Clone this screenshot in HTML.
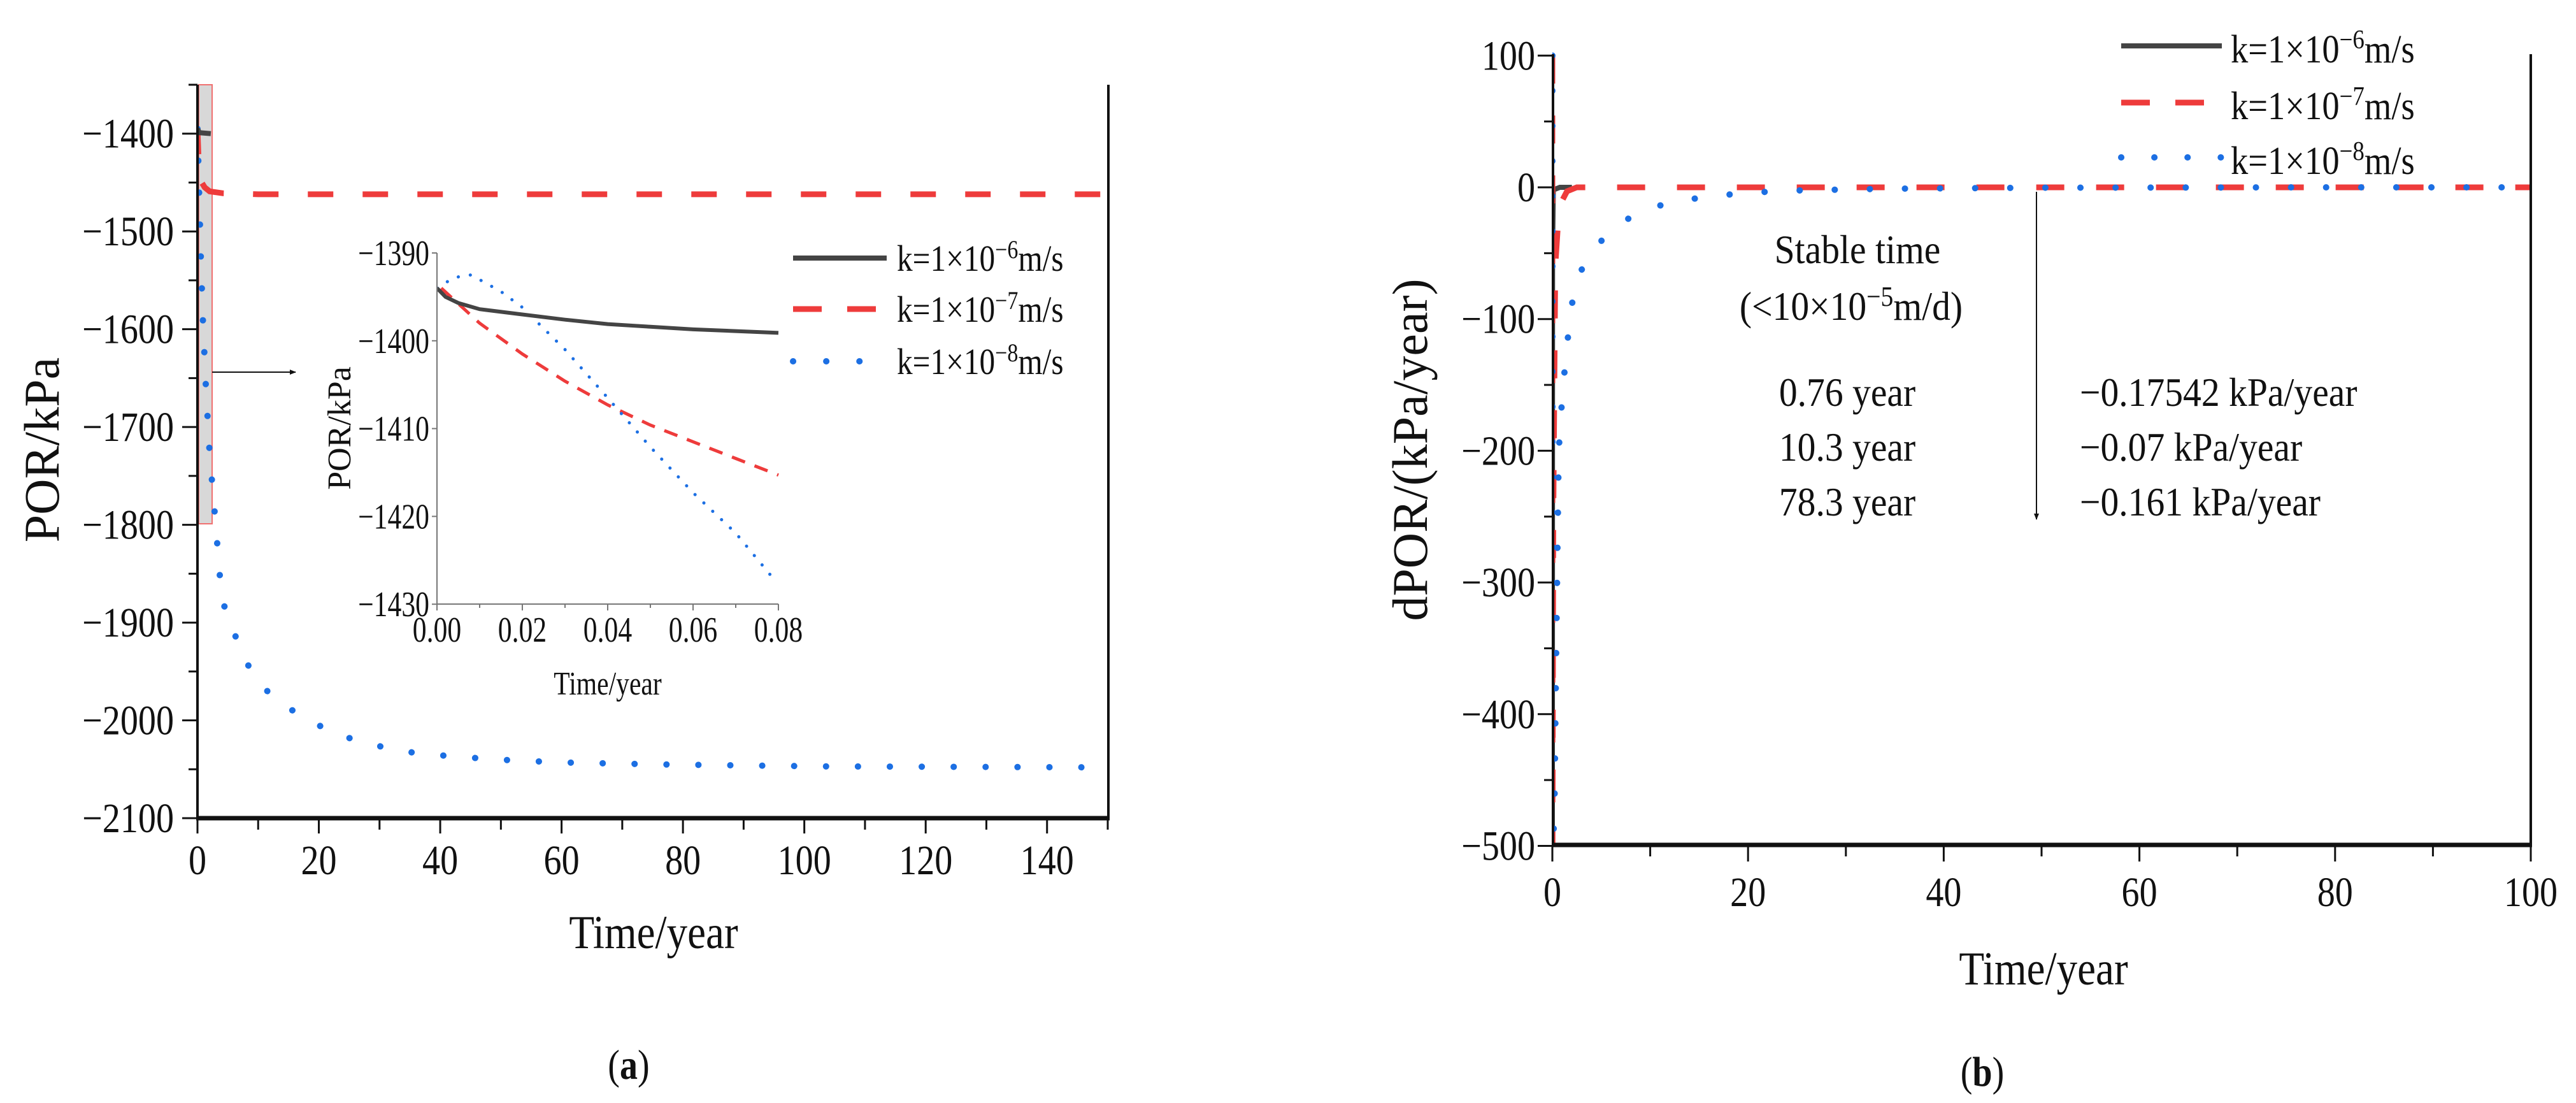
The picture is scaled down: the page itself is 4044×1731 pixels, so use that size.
<!DOCTYPE html>
<html><head><meta charset="utf-8">
<style>
html,body{margin:0;padding:0;background:#fff;}
svg{display:block;}
text{font-family:"Liberation Serif",serif;fill:#111;}
</style></head>
<body>
<svg id="fig" width="4044" height="1731" viewBox="0 0 4044 1731" xmlns="http://www.w3.org/2000/svg">
<defs>
<clipPath id="clipA"><rect x="310" y="100" width="1430" height="1186"/></clipPath>
<clipPath id="clipB"><rect x="2437" y="80" width="1537" height="1248"/></clipPath>
<clipPath id="clipI"><rect x="686" y="380" width="540" height="570"/></clipPath>
<marker id="arrowHead" markerWidth="10" markerHeight="8" refX="9" refY="4" orient="auto" markerUnits="userSpaceOnUse"><path d="M0,0 L10,4 L0,8 z" fill="#111"/></marker>
</defs>
<g id="chartA"></g>
<g id="inset"></g>
<g id="chartB"></g>
</svg>
<script>
// ---- Chart (a) data ----
const aBlackT = [0, 0.3, 2.2];
const aBlackV = [-1395, -1399, -1400];
const aRedT = [0, 0.15, 0.4, 0.7, 1.2, 2.0, 4.2, 10, 150];
const aRedV = [-1395, -1420, -1440, -1450, -1455, -1459, -1461, -1462, -1462];
const aBlueT = [0, 0.26, 0.55, 0.9, 1.4, 2.0, 2.9, 4.0, 6, 8, 10, 13, 17.9, 22.7, 27.8, 33, 38.4, 49, 59.8, 76, 102.8, 147];
const aBlueV = [-1395, -1457, -1525, -1592, -1660, -1727, -1792, -1876, -1910, -1940, -1960, -1980, -1998, -2014, -2023, -2031, -2035, -2040, -2043, -2045, -2047, -2048];
const aXTicks = [0, 20, 40, 60, 80, 100, 120, 140];
const aYTicks = [-2100, -2000, -1900, -1800, -1700, -1600, -1500, -1400];
// ---- Inset data ----
const iBlackT = [0, 0.002, 0.005, 0.01, 0.02, 0.03, 0.04, 0.05, 0.06, 0.07, 0.08];
const iBlackV = [-1394, -1395, -1395.7, -1396.4, -1397.0, -1397.6, -1398.1, -1398.4, -1398.7, -1398.9, -1399.1];
const iRedT = [0.001, 0.01, 0.02, 0.03, 0.04, 0.05, 0.06, 0.07, 0.08];
const iRedV = [-1394, -1398, -1401.5, -1404.6, -1407.3, -1409.6, -1411.5, -1413.4, -1415.3];
const iBlueT = [0, 0.004, 0.008, 0.015, 0.02, 0.03, 0.04, 0.05, 0.06, 0.07, 0.078];
const iBlueV = [-1394, -1392.8, -1392.5, -1394.4, -1396.2, -1401, -1406.5, -1412.1, -1417.3, -1421.9, -1426.6];
const iXTicks = [0, 0.02, 0.04, 0.06, 0.08];
const iYTicks = [-1430, -1420, -1410, -1400, -1390];
// ---- Chart (b) data ----
const bBlackT = [0, 0.02, 0.1, 0.76, 2];
const bBlackV = [-500, -50, -2, 0, 0];
const bRedT = [0, 0.02, 0.1, 0.3, 0.6, 1.0, 1.5, 2.5, 10.3, 100];
const bRedV = [100, -500, -250, -60, -25, -10, -3, 0, 0, 0];
const bBlueT = [0, 0.02, 0.2, 0.4, 0.65, 1.0, 1.47, 2.3, 4, 6.3, 9.5, 13.1, 16.8, 20.2, 24, 34.5, 50, 78.3, 100];
const bBlueV = [100, -500, -480, -350, -200, -160, -121, -72, -49, -30, -16.5, -10, -6.3, -4.1, -2.5, -1, -0.3, 0, 0];
const bXTicks = [0, 20, 40, 60, 80, 100];
const bYTicks = [-500, -400, -300, -200, -100, 0, 100];

const NS = "http://www.w3.org/2000/svg";
function mk(parent, tag, attrs) {
  const e = document.createElementNS(NS, tag);
  for (const k in attrs) e.setAttribute(k, attrs[k]);
  parent.appendChild(e);
  return e;
}
function txt(parent, x, y, s, size, anchor, sx, rot) {
  const e = mk(parent, "text", {"font-size": size, "text-anchor": anchor || "start",
    transform: "translate(" + x + "," + y + ")" + (rot ? " rotate(" + rot + ")" : "") + " scale(" + (sx || 1) + ",1)"});
  e.textContent = s;
  return e;
}
function fmt(v, d) { const s = Math.abs(v).toFixed(d || 0); return v < 0 ? "\u2212" + s : s; }
function pathOf(T, V, fx, fy) { return T.map((t, i) => (i ? "L" : "M") + fx(t).toFixed(1) + "," + fy(V[i]).toFixed(1)).join(" "); }

const RED = "#ee3b3b", BLUE = "#1c6fe3", BLACK = "#444";
const styles = {
  black: {stroke: BLACK, "stroke-width": 8, fill: "none"},
  red: {stroke: RED, "stroke-width": 9, fill: "none", "stroke-dasharray": "40 46"},
  blue: {stroke: BLUE, "stroke-width": 10, fill: "none", "stroke-dasharray": "0.1 50", "stroke-linecap": "round"}
};

// ================= Chart A =================
const gA = document.getElementById("chartA");
const xA = t => 310 + t * (1429 / 150);
const yA = v => 1284 - (v + 2100) * (1151 / 750);
let e = mk(gA, "rect", {x: 312, y: 133, width: 21, height: 689, fill: "#d8d8d8", stroke: "#f07070", "stroke-width": 2});


const gAS = mk(gA, "g", {"clip-path": "url(#clipA)"});
e = mk(gAS, "path", Object.assign({d: pathOf(aRedT, aRedV, xA, yA)}, styles.red));


e = mk(gAS, "path", Object.assign({d: pathOf(aBlueT, aBlueV, xA, yA)}, styles.blue));


e = mk(gAS, "path", Object.assign({d: pathOf(aBlackT, aBlackV, xA, yA)}, styles.black));


e = mk(gA, "line", {x1: 310, y1: 133, x2: 310, y2: 1286, stroke: "#111", "stroke-width": 4});


e = mk(gA, "line", {x1: 308, y1: 1284, x2: 1742, y2: 1284, stroke: "#111", "stroke-width": 7});


e = mk(gA, "line", {x1: 1740, y1: 133, x2: 1740, y2: 1286, stroke: "#111", "stroke-width": 4});


for (let t = 0; t <= 150; t += 10) {
  const major = aXTicks.includes(t);
  e = mk(gA, "line", {x1: xA(t), y1: 1284, x2: xA(t), y2: 1284 + (major ? 24 : 18), stroke: "#111", "stroke-width": 3});
  
  
}
aXTicks.forEach(t => {
  e = txt(gA, xA(t), 1372, fmt(t), 66, "middle", 0.85);
  
  
});
for (let v = -2100; v <= -1350; v += 50) {
  const major = aYTicks.includes(v);
  e = mk(gA, "line", {x1: 310, y1: yA(v), x2: 310 - (major ? 24 : 14), y2: yA(v), stroke: "#111", "stroke-width": 3});
  
  
}
aYTicks.forEach(v => {
  e = txt(gA, 273, yA(v) + 22, fmt(v), 66, "end", 0.85);
  
  
});
e = txt(gA, 1026, 1488, "Time/year", 74, "middle", 0.88);


e = txt(gA, 92, 706, "POR/kPa", 78, "middle", 1, -90);


const pa = mk(gA, "text", {"font-size": 66, "text-anchor": "middle", transform: "translate(987,1693) scale(0.85,1)"});
pa.innerHTML = '(<tspan font-weight="bold">a</tspan>)';


e = mk(gA, "line", {x1: 333, y1: 584, x2: 464, y2: 584, stroke: "#111", "stroke-width": 2, "marker-end": "url(#arrowHead)"});


const legRowsA = [405, 485, 567];
const legKeys = ["black", "red", "blue"];
const legLabels = ["\u22126", "\u22127", "\u22128"];
legKeys.forEach((k, i) => {
  const st = Object.assign({}, styles[k]);
  if (k === "red") st["stroke-dasharray"] = "45 40";
  if (k === "blue") st["stroke-dasharray"] = "0.1 52";
  e = mk(gA, "line", Object.assign({x1: 1245, y1: legRowsA[i], x2: 1392, y2: legRowsA[i]}, st));
  
  
  const t = mk(gA, "text", {"font-size": 58, transform: "translate(1408," + (legRowsA[i] + 20) + ") scale(0.85,1)"});
  t.innerHTML = 'k=1×10<tspan dy="-20" font-size="40">' + legLabels[i] + '</tspan><tspan dy="20">m/s</tspan>';
  
  
});

// ================= Inset =================
const gI = document.getElementById("inset");
const xI = t => 686 + t / 0.08 * 536;
const yI = v => 397 + (-1390 - v) * 13.78;
const gIS = mk(gI, "g", {"clip-path": "url(#clipI)"});
e = mk(gIS, "path", Object.assign({d: pathOf(iRedT, iRedV, xI, yI)}, styles.red, {"stroke-width": 5, "stroke-dasharray": "22 16"}));


e = mk(gIS, "path", Object.assign({d: pathOf(iBlueT, iBlueV, xI, yI)}, styles.blue, {"stroke-width": 5, "stroke-dasharray": "0.1 19"}));


e = mk(gIS, "path", Object.assign({d: pathOf(iBlackT, iBlackV, xI, yI)}, styles.black, {"stroke-width": 6}));


e = mk(gI, "line", {x1: 686, y1: 397, x2: 686, y2: 948, stroke: "#777", "stroke-width": 2});


e = mk(gI, "line", {x1: 686, y1: 948, x2: 1222, y2: 948, stroke: "#777", "stroke-width": 2});


for (let i = 0; i <= 8; i++) {
  const t = i * 0.01;
  e = mk(gI, "line", {x1: xI(t), y1: 948, x2: xI(t), y2: 948 + (i % 2 ? 6 : 10), stroke: "#777", "stroke-width": 2});
  
  
}
for (let v = -1430; v <= -1390; v += 5) {
  e = mk(gI, "line", {x1: 686, y1: yI(v), x2: 686 - (v % 10 ? 0 : 8), y2: yI(v), stroke: "#777", "stroke-width": 2});
  
  
}
iXTicks.forEach(t => {
  e = txt(gI, xI(t), 1007, t.toFixed(2), 56, "middle", 0.78);
  
  
});
iYTicks.forEach(v => {
  e = txt(gI, 674, yI(v) + 19, fmt(v), 56, "end", 0.78);
  
  
});
e = txt(gI, 954, 1090, "Time/year", 52, "middle", 0.8);


e = txt(gI, 550, 672, "POR/kPa", 52, "middle", 1, -90);



// ================= Chart B =================
const gB = document.getElementById("chartB");
const xB = t => 2437 + t * 15.36;
const yB = v => 294 - v * 2.067;
const gBS = mk(gB, "g", {"clip-path": "url(#clipB)"});
e = mk(gBS, "path", Object.assign({d: pathOf(bBlackT, bBlackV, xB, yB)}, styles.black));


e = mk(gBS, "path", Object.assign({d: pathOf(bRedT, bRedV, xB, yB)}, styles.red, {"stroke-dasharray": "44 50"}));


e = mk(gBS, "path", Object.assign({d: pathOf(bBlueT, bBlueV, xB, yB)}, styles.blue, {"stroke-dasharray": "0.1 55"}));


e = mk(gB, "line", {x1: 2438, y1: 85, x2: 2438, y2: 1328, stroke: "#111", "stroke-width": 4});


e = mk(gB, "line", {x1: 2436, y1: 1326, x2: 3975, y2: 1326, stroke: "#111", "stroke-width": 7});


e = mk(gB, "line", {x1: 3973, y1: 85, x2: 3973, y2: 1328, stroke: "#111", "stroke-width": 4});


for (let t = 0; t <= 100; t += 10) {
  e = mk(gB, "line", {x1: xB(t), y1: 1326, x2: xB(t), y2: 1326 + (t % 20 ? 18 : 26), stroke: "#111", "stroke-width": 3});
  
  
}
for (let v = -500; v <= 100; v += 50) {
  e = mk(gB, "line", {x1: 2438, y1: yB(v), x2: 2438 - (v % 100 ? 14 : 24), y2: yB(v), stroke: "#111", "stroke-width": 3});
  
  
}
bXTicks.forEach(t => {
  e = txt(gB, xB(t), 1422, fmt(t), 66, "middle", 0.85);
  
  
});
bYTicks.forEach(v => {
  e = txt(gB, 2410, yB(v) + 22, fmt(v), 66, "end", 0.85);
  
  
});
e = txt(gB, 3208, 1545, "Time/year", 74, "middle", 0.88);


e = txt(gB, 2240, 706, "dPOR/(kPa/year)", 78, "middle", 1, -90);


const pb = mk(gB, "text", {"font-size": 66, "text-anchor": "middle", transform: "translate(3112,1704) scale(0.85,1)"});
pb.innerHTML = '(<tspan font-weight="bold">b</tspan>)';


const legRowsB = [72, 161, 247];
legKeys.forEach((k, i) => {
  const st = Object.assign({}, styles[k]);
  if (k === "red") st["stroke-dasharray"] = "45 40";
  if (k === "blue") st["stroke-dasharray"] = "0.1 52";
  e = mk(gB, "line", Object.assign({x1: 3330, y1: legRowsB[i], x2: 3488, y2: legRowsB[i]}, st));
  
  
  const t = mk(gB, "text", {"font-size": 62, transform: "translate(3502," + (legRowsB[i] + 26) + ") scale(0.88,1)"});
  t.innerHTML = 'k=1×10<tspan dy="-22" font-size="42">' + legLabels[i] + '</tspan><tspan dy="22">m/s</tspan>';
  
  
});
e = txt(gB, 2916, 413, "Stable time", 64, "middle", 0.9);


const st2 = mk(gB, "text", {"font-size": 64, "text-anchor": "middle", transform: "translate(2906,502) scale(0.9,1)"});
st2.innerHTML = '(&lt;10×10<tspan dy="-22" font-size="44">\u22125</tspan><tspan dy="22">m/d)</tspan>';


const stableLabels = ["0.76 year", "10.3 year", "78.3 year"];
const rateLabels = ["\u22120.17542 kPa/year", "\u22120.07 kPa/year", "\u22120.161 kPa/year"];
const annRows = [637, 723, 809];
stableLabels.forEach((s, i) => {
  e = txt(gB, 2900, annRows[i], s, 64, "middle", 0.9);
  
  
});
rateLabels.forEach((s, i) => {
  e = txt(gB, 3265, annRows[i], s, 64, "start", 0.9);
  
  
});
e = mk(gB, "line", {x1: 3197, y1: 301, x2: 3197, y2: 815, stroke: "#111", "stroke-width": 2, "marker-end": "url(#arrowHead)"});


</script>
</body></html>
